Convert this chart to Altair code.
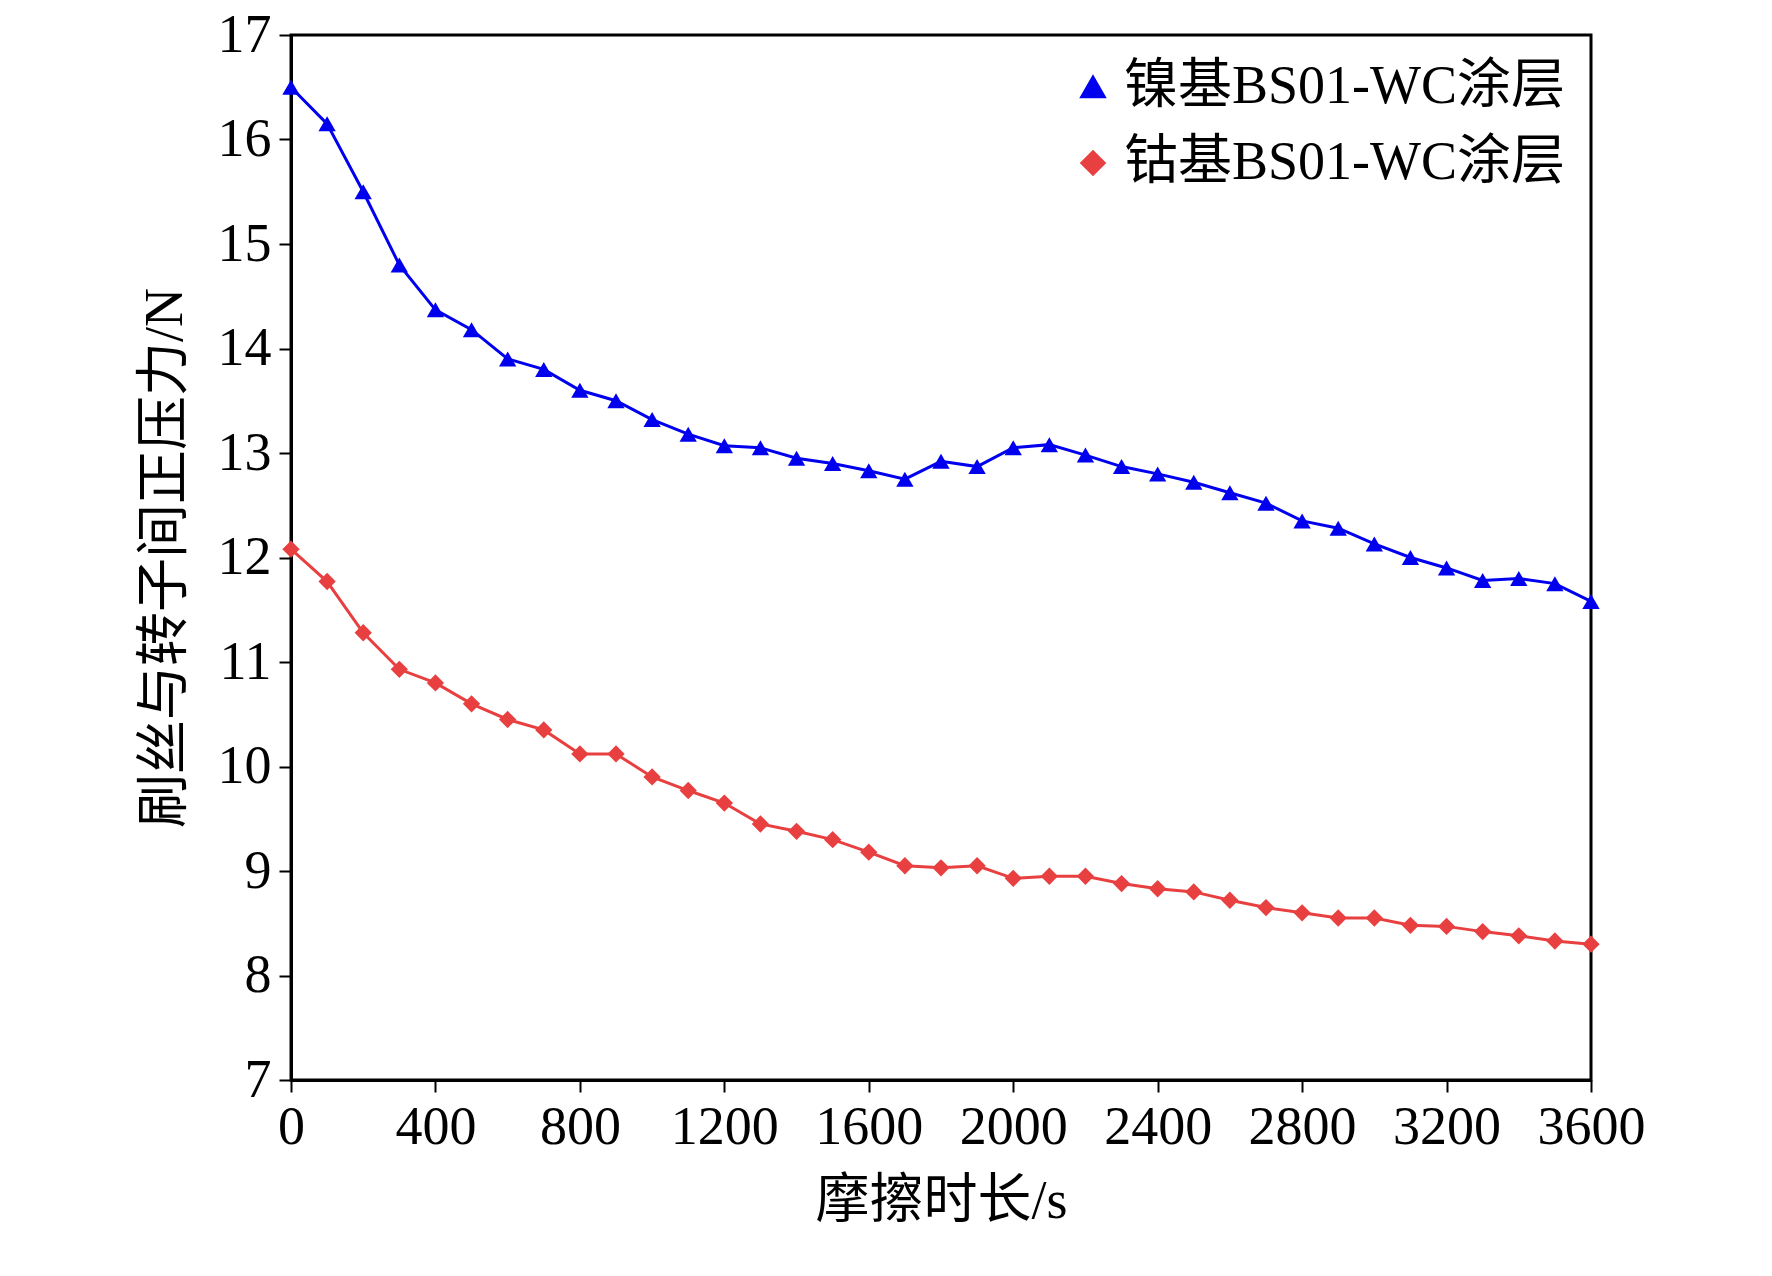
import altair as alt
import pandas as pd

times = list(range(0, 3601, 100))
ni_force = [16.5, 16.15, 15.5, 14.8, 14.37, 14.18, 13.9, 13.8, 13.6, 13.5,
            13.32, 13.18, 13.07, 13.05, 12.95, 12.9, 12.83, 12.75, 12.92, 12.87,
            13.05, 13.08, 12.98, 12.87, 12.8, 12.72, 12.62, 12.52, 12.35, 12.28,
            12.13, 12.0, 11.9, 11.78, 11.8, 11.75, 11.58]
co_force = [12.08, 11.77, 11.28, 10.93, 10.8, 10.6, 10.45, 10.35, 10.12, 10.12,
            9.9, 9.77, 9.65, 9.45, 9.38, 9.3, 9.18, 9.05, 9.03, 9.05,
            8.93, 8.95, 8.95, 8.88, 8.83, 8.8, 8.72, 8.65, 8.6, 8.55,
            8.55, 8.48, 8.47, 8.42, 8.38, 8.33, 8.3]
series = ["镍基BS01-WC涂层", "钴基BS01-WC涂层"]
colors = ["#0000ee", "#e84040"]
shapes = ["triangle-up", "diamond"]

df = pd.concat([
    pd.DataFrame({"t": times, "f": ni_force, "s": series[0]}),
    pd.DataFrame({"t": times, "f": co_force, "s": series[1]}),
])

FONT = "Liberation Serif, Noto Sans CJK SC"

color = alt.Color("s:N", scale=alt.Scale(domain=series, range=colors), sort=series,
                  legend=alt.Legend(title=None, orient="top-right", labelFontSize=54,
                                    labelFont=FONT, symbolSize=500, symbolStrokeWidth=3,
                                    labelLimit=700, rowPadding=22, offset=25, labelColor="black"))
shape = alt.Shape("s:N", scale=alt.Scale(domain=series, range=shapes), sort=series, legend=None)

axis_style = dict(labelFontSize=54, titleFontSize=54, labelFont=FONT, titleFont=FONT,
                  titleFontWeight="normal", grid=False, tickSize=12, tickWidth=2,
                  domainColor="black", tickColor="black", labelColor="black",
                  titleColor="black", labelPadding=8, labelOverlap=False)

x = alt.X("t:Q", title="摩擦时长/s", scale=alt.Scale(domain=[0, 3600], nice=False),
          axis=alt.Axis(values=list(range(0, 3601, 400)), format="d", labelFlush=False,
                        titlePadding=20, **axis_style))
y = alt.Y("f:Q", title="刷丝与转子间正压力/N", scale=alt.Scale(domain=[7, 17], nice=False),
          axis=alt.Axis(values=list(range(7, 18)), titlePadding=25, **axis_style))

base = alt.Chart(df).encode(x=x, y=y, color=color)
lines = base.mark_line(strokeWidth=3).encode(detail="s:N")
pts = base.mark_point(filled=True, size=300, opacity=1).encode(shape=shape)

chart = (
    alt.layer(lines, pts)
    .properties(width=1300, height=1045, background="white",
                padding={"left": 130, "top": 0, "right": 5, "bottom": 5})
    .configure_view(stroke="black", strokeWidth=3)
    .configure_axis(domainWidth=3)
)
chart.save("out.html", embed_options={"renderer": "svg", "actions": False})
